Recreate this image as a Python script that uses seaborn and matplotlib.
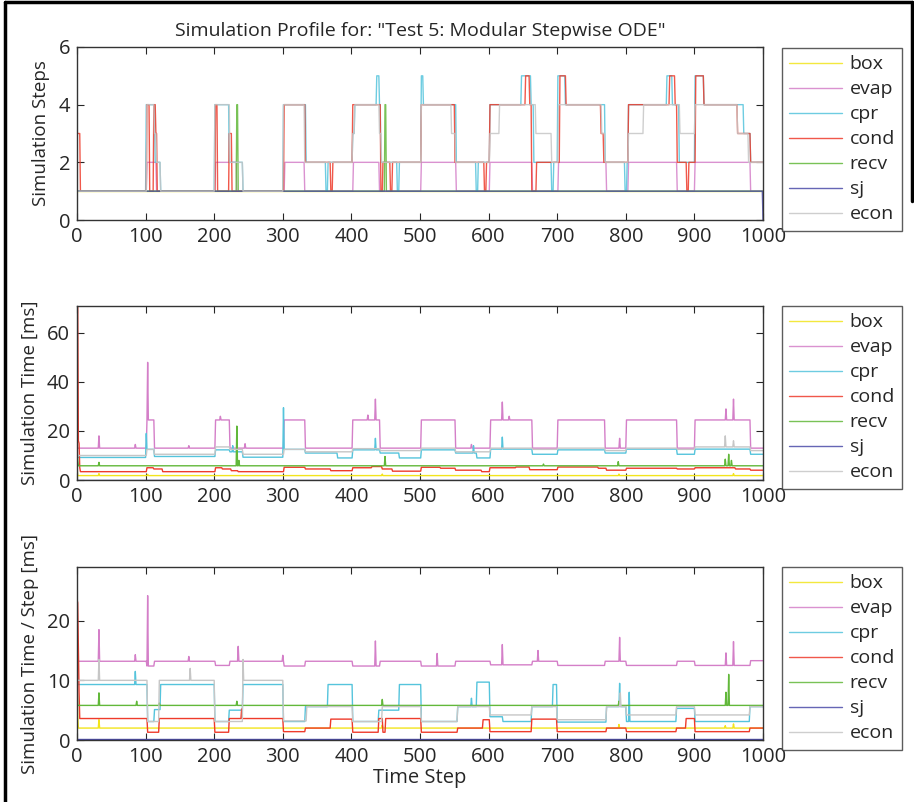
import seaborn as sns
import matplotlib.pyplot as plt
from matplotlib.lines import Line2D
import numpy as np
import pandas as pd

# series names / colours
names = ['box', 'evap', 'cpr', 'cond', 'recv', 'sj', 'econ']
colors = ['#f2e41c', '#d47fc8', '#55c4dc', '#ee3b2b', '#62b83a', '#4b4ba8', '#c6c6c6']

N = 1001

# ---- panel 1: simulation steps, (start step, level) change points ----
steps_box = [(0, 1)]
steps_evap = [(0, 1), (102, 2), (116, 1), (202, 2), (233, 1), (303, 2), (332, 1), (403, 2), (441, 1),
              (502, 2), (553, 1), (602, 2), (664, 1), (702, 2), (772, 1), (804, 2), (875, 1), (901, 2), (982, 1)]
steps_cpr = [(0, 1), (101, 4), (114, 2), (122, 1), (201, 4), (222, 2), (242, 1), (301, 4), (334, 2), (363, 1),
             (366, 2), (402, 3), (405, 4), (437, 5), (441, 4), (443, 2), (467, 1), (470, 2), (502, 5), (505, 4),
             (553, 2), (582, 1), (585, 2), (602, 4), (648, 5), (662, 4), (666, 2), (692, 1), (695, 2), (701, 5),
             (712, 4), (770, 2), (799, 1), (802, 2), (804, 4), (860, 5), (868, 4), (878, 2), (901, 5), (914, 4),
             (972, 3), (982, 2)]
steps_cond = [(0, 3), (5, 1), (102, 4), (106, 1), (112, 4), (115, 3), (117, 1), (202, 4), (205, 1), (222, 3),
              (226, 1), (302, 4), (333, 2), (370, 1), (373, 2), (402, 4), (443, 1), (446, 2), (457, 1), (460, 2),
              (502, 4), (551, 2), (594, 1), (597, 2), (602, 4), (654, 5), (660, 4), (663, 1), (670, 2), (704, 5),
              (713, 4), (764, 3), (768, 2), (804, 4), (864, 5), (872, 4), (875, 2), (889, 1), (892, 2), (902, 5),
              (914, 4), (963, 3), (982, 2)]
steps_recv = [(0, 1)]
steps_recv_spikes = [(233, 4), (234, 4), (449, 4), (450, 4)]
steps_sj = [(0, 1), (1000, 0)]
steps_econ = [(0, 1), (102, 4), (113, 3), (116, 2), (122, 1), (201, 4), (223, 2), (242, 1), (301, 4), (332, 2),
              (402, 3), (405, 4), (441, 3), (444, 2), (502, 4), (546, 3), (552, 2), (602, 3), (616, 4), (669, 3),
              (692, 2), (702, 4), (765, 3), (770, 2), (804, 3), (826, 4), (879, 3), (901, 4), (963, 3), (979, 2)]

# ---- panel 2: simulation time [ms] ----
time_box = [(0, 1.8)]
time_box_spikes = [(0, 6), (32, 2.6), (103, 2.3), (445, 2.4), (790, 2.4), (957, 2.6)]
time_evap = [(0, 13), (102, 24.5), (113, 13), (202, 24.5), (223, 13), (302, 24.5), (333, 13), (402, 24.5),
             (442, 13), (502, 24.5), (552, 13), (603, 24.5), (664, 13), (701, 24.5), (770, 13), (801, 24.5),
             (875, 13), (901, 24.5), (982, 13)]
time_evap_spikes = [(32, 18), (103, 48), (85, 14.5), (163, 14), (209, 26), (245, 14.8), (424, 26.5),
                    (435, 33), (575, 14.5), (620, 31.8), (630, 26), (791, 17), (946, 29), (957, 33)]
time_cpr = [(0, 9.2), (102, 12.5), (113, 9.6), (202, 12.3), (223, 11.5), (242, 9.3), (302, 12.5), (333, 11),
            (380, 9), (402, 12.3), (442, 11), (470, 9), (502, 12.3), (552, 11), (583, 9), (603, 12.6),
            (664, 10.5), (701, 12.3), (770, 11), (801, 12.6), (875, 10.5), (901, 12.6), (982, 10.5)]
time_cpr_spikes = [(101, 19), (227, 14), (301, 29.5), (435, 17), (578, 14), (620, 17.5)]
time_cond = [(0, 3.4), (102, 5), (112, 4.5), (125, 3.4), (202, 5), (212, 4.5), (225, 3.8), (235, 3.4),
             (302, 5.2), (333, 4.5), (370, 3.8), (402, 5), (430, 5.5), (445, 4.5), (460, 3.6), (502, 5.2),
             (530, 4.8), (552, 4), (590, 3.4), (602, 5), (640, 5.3), (660, 4.2), (701, 5.3), (760, 4.8),
             (772, 4), (801, 4.8), (875, 4.5), (901, 5), (960, 4.5), (982, 4)]
time_cond_spikes = [(0, 75), (1, 72), (2, 16), (3, 15), (4, 5)]
time_recv = [(0, 5.8)]
time_recv_spikes = [(0, 12), (1, 8), (32, 7.2), (233, 22), (236, 8), (449, 9.6), (680, 6.5), (789, 7.5),
                    (945, 8.5), (950, 10.5), (954, 8)]
time_sj = [(0, 0.2)]
time_econ = [(0, 10), (102, 12.5), (113, 10.5), (202, 13.5), (223, 12.5), (242, 10.5), (302, 12.5),
             (333, 11.5), (402, 12.8), (442, 12), (502, 13), (552, 11.5), (603, 13), (664, 12.5), (701, 13),
             (770, 12), (801, 13), (875, 12.5), (901, 13.5), (982, 12)]
time_econ_spikes = [(945, 18), (957, 16)]

# ---- panel 3: simulation time / step [ms] ----
step_box = [(0, 2.0)]
step_box_spikes = [(0, 9), (1, 4), (32, 3.4), (445, 2.5), (790, 2.6), (945, 2.4), (957, 2.7)]
step_evap = [(0, 13.2), (102, 12.4), (113, 13.2), (202, 12.5), (223, 13.2), (302, 12.4), (333, 13.2),
             (402, 12.4), (442, 13.2), (502, 12.4), (552, 13.2), (603, 12.6), (664, 13.2), (701, 12.5),
             (770, 13.2), (801, 12.5), (875, 13.2), (901, 12.5), (982, 13.3)]
step_evap_spikes = [(32, 18.5), (85, 14.3), (103, 24.2), (163, 14), (235, 15.7), (300, 14.2), (435, 16.6),
                    (525, 14.5), (620, 16), (672, 15), (791, 17.2), (946, 14.6), (957, 16.5)]
step_cpr = [(0, 9.3), (103, 3.1), (113, 5.1), (122, 9.3), (201, 3.1), (222, 5), (242, 9.3), (301, 3.1),
            (333, 5.6), (366, 9.3), (402, 3.1), (440, 5), (470, 9.3), (502, 3.1), (555, 5.6), (583, 9.7),
            (602, 3.9), (621, 3.1), (663, 5.6), (694, 9.3), (700, 3), (772, 5.6), (801, 3.1), (874, 5.3),
            (901, 3.1), (981, 5.6)]
step_cpr_spikes = [(0, 29.5), (85, 11.5), (575, 7), (791, 9.5), (805, 8)]
step_cond = [(0, 3.6), (103, 1.3), (120, 3.6), (201, 1.3), (222, 3.6), (301, 1.4), (333, 2.0), (370, 3.5),
             (402, 1.3), (440, 3.6), (446, 1.3), (450, 3.6), (502, 1.3), (555, 2.0), (592, 3.4), (602, 1.4),
             (663, 3.5), (700, 1.4), (772, 2.0), (801, 1.4), (874, 2.0), (888, 3.6), (901, 1.4), (981, 2.0)]
step_cond_spikes = [(0, 23.6), (1, 23), (2, 16), (3, 8), (240, 5.2)]
step_recv = [(0, 5.8)]
step_recv_spikes = [(0, 10), (32, 7.9), (87, 6.5), (120, 6.2), (233, 6.5), (445, 6.8), (790, 6.5),
                    (946, 8), (950, 11)]
step_sj = [(0, 0.1)]
step_econ = [(0, 10), (103, 3.1), (120, 10), (201, 3.1), (242, 10), (301, 3.2), (335, 5.6), (402, 3.1),
             (445, 5.6), (502, 3.1), (555, 5.6), (602, 4.2), (663, 5.6), (700, 3.4), (772, 5.6), (801, 4.2),
             (874, 5.6), (901, 4.2), (981, 5.6)]
step_econ_spikes = [(32, 13.5), (165, 12), (242, 13.5), (792, 7.9)]


def expand(levels, spikes=()):
    vals = np.zeros(N)
    for i, (t0, v) in enumerate(levels):
        t1 = levels[i + 1][0] if i + 1 < len(levels) else N
        vals[t0:t1] = v
    for t, v in spikes:
        vals[t] = v
    return vals


def make_frame(series):
    rows = []
    for name, (levels, spikes) in zip(names, series):
        vals = expand(levels, spikes)
        rows.append(pd.DataFrame({'t': np.arange(N), 'value': vals, 'series': name}))
    return pd.concat(rows, ignore_index=True)


panels = [
    (make_frame([(steps_box, []), (steps_evap, []), (steps_cpr, []), (steps_cond, []),
                 (steps_recv, steps_recv_spikes), (steps_sj, []), (steps_econ, [])]),
     'Simulation Steps', (0, 6), [0, 2, 4, 6]),
    (make_frame([(time_box, time_box_spikes), (time_evap, time_evap_spikes), (time_cpr, time_cpr_spikes),
                 (time_cond, time_cond_spikes), (time_recv, time_recv_spikes), (time_sj, []),
                 (time_econ, time_econ_spikes)]),
     'Simulation Time [ms]', (0, 71), [0, 20, 40, 60]),
    (make_frame([(step_box, step_box_spikes), (step_evap, step_evap_spikes), (step_cpr, step_cpr_spikes),
                 (step_cond, step_cond_spikes), (step_recv, step_recv_spikes), (step_sj, []),
                 (step_econ, step_econ_spikes)]),
     'Simulation Time / Step [ms]', (0, 29), [0, 10, 20]),
]

sns.set_style('ticks')
plt.rcParams['font.family'] = ['Open Sans', 'DejaVu Sans']

fig = plt.figure(figsize=(9.14, 8.02), dpi=100)
palette = dict(zip(names, colors))

ax_rects = [
    [77 / 914, 1 - 220 / 802, 686 / 914, 173 / 802],
    [77 / 914, 1 - 480 / 802, 686 / 914, 174 / 802],
    [77 / 914, 1 - 740 / 802, 686 / 914, 173 / 802],
]
legend_tops = [48, 306, 567]

for k, (df, ylab, ylim, yticks) in enumerate(panels):
    ax = fig.add_axes(ax_rects[k])
    sns.lineplot(data=df, x='t', y='value', hue='series', hue_order=names, palette=palette,
                 estimator=None, linewidth=1.0, alpha=0.85 if k == 0 else 1.0, ax=ax)
    ax.set_xlim(0, 1000)
    ax.set_ylim(*ylim)
    ax.set_xticks(np.arange(0, 1001, 100))
    ax.set_yticks(yticks)
    ax.tick_params(direction='in', top=True, right=True, labelsize=14.5, length=5, pad=5)
    for sp in ax.spines.values():
        sp.set_linewidth(1.0)
        sp.set_color('#333333')
    ax.set_ylabel(ylab, fontsize=13.5, labelpad=6)
    ax.set_xlabel('Time Step' if k == 2 else '', fontsize=14.5, labelpad=1)
    ax.get_legend().remove()
    handles = [Line2D([0], [0], color=c, lw=1.0, alpha=0.85) for c in colors]
    leg = fig.legend(handles, names, loc='upper left',
                     bbox_to_anchor=(782 / 914, 1 - legend_tops[k] / 802), fontsize=14,
                     frameon=True, fancybox=False, edgecolor='#333333', handlelength=2.7,
                     labelspacing=0.36, borderpad=0.38, handletextpad=0.4, borderaxespad=0)
    leg.get_frame().set_linewidth(1.0)
    if k == 0:
        ax.set_title('Simulation Profile for: "Test 5: Modular Stepwise ODE"', fontsize=14, pad=8)

# outer frame (left and top edges)
fig.add_artist(Line2D([0.006, 0.006], [0, 0.998], color='black', lw=2.5, transform=fig.transFigure))
fig.add_artist(Line2D([0.006, 0.998], [0.998, 0.998], color='black', lw=2.5, transform=fig.transFigure))
fig.add_artist(Line2D([0.998, 0.998], [0.998, 0.75], color='black', lw=2.5, transform=fig.transFigure))

fig.savefig('out.png', dpi=100)
